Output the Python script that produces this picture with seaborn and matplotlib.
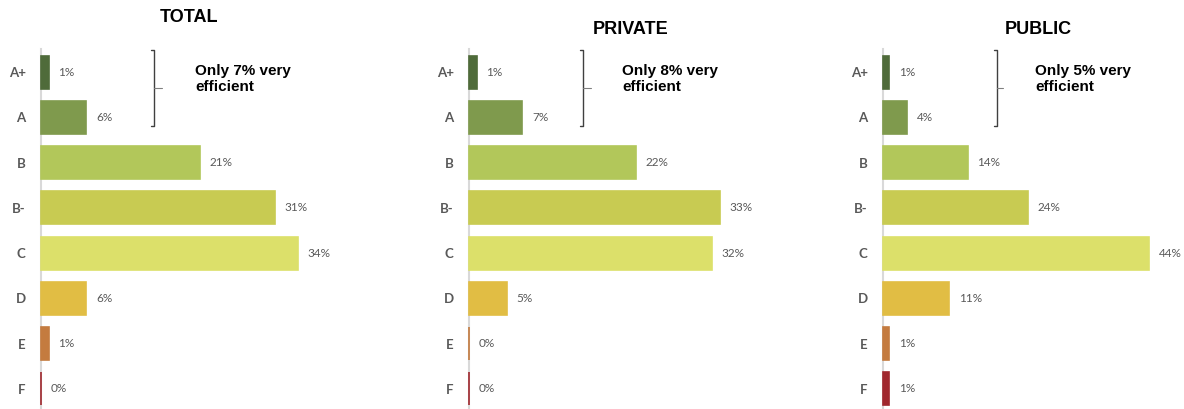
import matplotlib
matplotlib.use("Agg")
import matplotlib.pyplot as plt
from matplotlib.lines import Line2D
import seaborn as sns
import pandas as pd

# Energy-efficiency grade distribution by building segment
grades = ["A+", "A", "B", "B-", "C", "D", "E", "F"]
total_pct = [1, 6, 21, 31, 34, 6, 1, 0]
private_pct = [1, 7, 22, 33, 32, 5, 0, 0]
public_pct = [1, 4, 14, 24, 44, 11, 1, 1]
panel_titles = ["TOTAL", "PRIVATE", "PUBLIC"]
efficient_notes = ["Only 7% very\nefficient", "Only 8% very\nefficient", "Only 5% very\nefficient"]

grade_colors = ["#4f6b3a", "#7f9a4d", "#b2c75a", "#c8cb52",
                "#dce06a", "#e1bd44", "#c47b3f", "#a0282e"]

sns.set_theme(style="white")
plt.rcParams["font.family"] = ["Lato", "DejaVu Sans"]

W_PX, H_PX = 1184, 409
fig = plt.figure(figsize=(W_PX / 100, H_PX / 100), dpi=100)


def fx(px):
    return px / W_PX


def fy(py):
    return 1 - py / H_PX


# panel layout: left edge (px), width (px), x-limit (%), title centre (px)
layout = [
    dict(left=41, width=302, xmax=40, title=(189, 18), note=(195, 79), brk=(154, 162)),
    dict(left=469, width=304, xmax=40, title=(631, 29), note=(622, 79), brk=(583, 591)),
    dict(left=883, width=296, xmax=49, title=(1038, 29), note=(1035, 79), brk=(997, 1003)),
]
series = [total_pct, private_pct, public_pct]

ax_top, ax_bottom = 49.4, 411.6
for vals, title, note, lay in zip(series, panel_titles, efficient_notes, layout):
    ax = fig.add_axes([fx(lay["left"]), fy(ax_bottom), lay["width"] / W_PX,
                       (ax_bottom - ax_top) / H_PX])
    df = pd.DataFrame({"grade": grades, "pct": vals})
    sns.barplot(data=df, y="grade", x="pct", hue="grade", palette=grade_colors,
                order=grades, hue_order=grades, orient="h", width=0.73,
                saturation=1, legend=False, ax=ax)
    for patch in ax.patches:
        patch.set_edgecolor(patch.get_facecolor())
        patch.set_linewidth(1.2)
        patch.set_clip_on(False)
        patch.set_zorder(3)
    for cont in ax.containers:
        ax.bar_label(cont, fmt="{:.0f}%", padding=7, fontsize=8.5, color="#595959")

    ax.set_xlim(0, lay["xmax"])
    ax.set_ylim(len(grades) - 0.5, -0.5)
    ax.set_xlabel("")
    ax.set_ylabel("")
    ax.set_xticks([])
    for side in ["top", "right", "bottom"]:
        ax.spines[side].set_visible(False)
    ax.spines["left"].set_color("#d9d9d9")
    ax.spines["left"].set_linewidth(1.5)
    ax.spines["left"].set_zorder(1)
    ax.tick_params(axis="y", length=0, pad=11, labelsize=9.5, labelcolor="#595959")
    for lbl in ax.get_yticklabels():
        lbl.set_fontweight("bold")

    tx, ty = lay["title"]
    fig.text(fx(tx), fy(ty), title, ha="center", va="center", fontsize=13,
             fontweight="bold", family="Liberation Sans", color="#000000")

    nx, ny = lay["note"]
    fig.text(fx(nx), fy(ny), note, ha="left", va="center", fontsize=11,
             fontweight="bold", family="Liberation Sans", color="#000000",
             linespacing=1.2)

    # bracket grouping the A+ and A grades
    bx, mx = lay["brk"]
    b_top, b_bot, b_mid = 50, 125.5, 88
    pts = [(bx - 3, b_top), (bx, b_top), (bx, b_bot), (bx - 3, b_bot)]
    fig.add_artist(Line2D([fx(p[0]) for p in pts], [fy(p[1]) for p in pts],
                          color="#404040", linewidth=1.0))
    fig.add_artist(Line2D([fx(bx), fx(mx)], [fy(b_mid), fy(b_mid)],
                          color="#808080", linewidth=0.8))

fig.savefig("out.png", dpi=100)
